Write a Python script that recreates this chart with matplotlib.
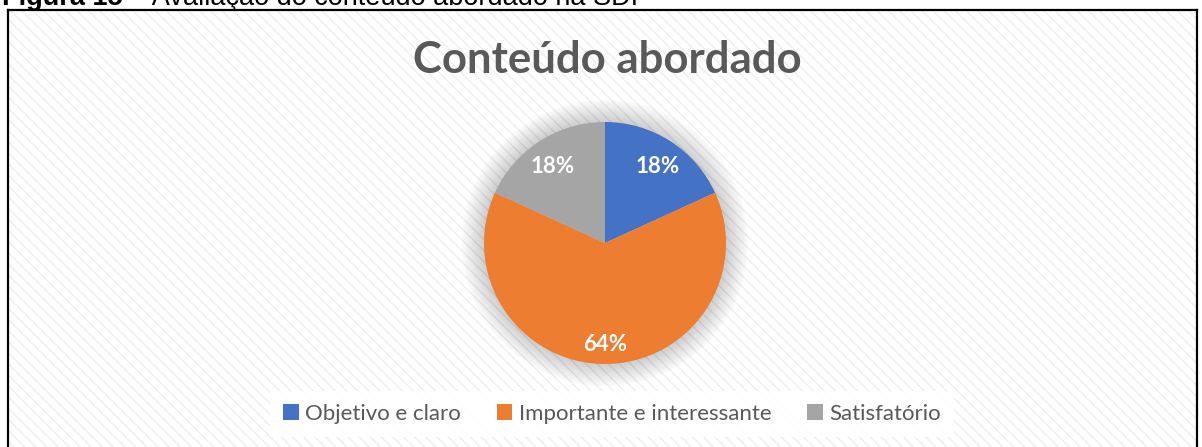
import matplotlib.pyplot as plt
from matplotlib.patches import Rectangle, Circle
from matplotlib.lines import Line2D

# Données du graphique
categories = ['Objetivo e claro', 'Importante e interessante', 'Satisfatório']
respostas = [2, 7, 2]
couleurs = ['#4472C4', '#ED7D31', '#A5A5A5']
titre = 'Conteúdo abordado'
legende_num = 'Figura 15'
legende_texte = ' – Avaliação do conteúdo abordado na SDI'

plt.rcParams['font.family'] = ['Lato', 'DejaVu Sans']
plt.rcParams['hatch.linewidth'] = 1.0

fig = plt.figure(figsize=(12.02, 4.47), dpi=100)
W, H = 1202, 447

# Fond hachuré de la zone du graphique
fond = Rectangle((8 / W, 0), (1197 - 8) / W, (H - 10) / H, transform=fig.transFigure,
                 facecolor='white', edgecolor='#eeeeee', hatch='\\\\\\', linewidth=0, zorder=-5)
fig.patches.append(fond)
# Cadre noir
for xs, ys in [([8, 8], [0, H - 10]), ([8, 1197], [H - 10, H - 10]), ([1197, 1197], [0, H - 10])]:
    fig.add_artist(Line2D([x / W for x in xs], [y / H for y in ys], color='black', lw=1.6, zorder=5))

# Légende de la figure (coupée en haut, comme dans l'original)
t1 = fig.text(2 / W, (H - 5) / H, legende_num, fontsize=19.5, family='Liberation Sans',
              fontweight='bold', ha='left', va='baseline')
renderer = fig.canvas.get_renderer()
bb = t1.get_window_extent(renderer)
fig.text(bb.x1 / W, (H - 5) / H, legende_texte, fontsize=19.5, family='Liberation Sans',
         ha='left', va='baseline')

# Titre
fig.text(607 / W, (H - 60) / H, titre, fontsize=31.5, fontweight='bold', color='#595959',
         ha='center', va='center')

# Camembert
r = 121
ax = fig.add_axes([(605 - r) / W, (H - 243 - r) / H, 2 * r / W, 2 * r / H], zorder=2)
ax.patch.set_visible(False)
ax.axis('off')

# Ombre douce autour du camembert
for i in range(16):
    ax.add_patch(Circle((0, 0), 1.0 + 0.012 * i, color='black', alpha=0.01,
                        zorder=0, clip_on=False))

wedges, texts, autotexts = ax.pie(respostas, colors=couleurs, startangle=90, counterclock=False,
                                  autopct='%1.0f%%', pctdistance=0.8, radius=1,
                                  wedgeprops=dict(linewidth=0),
                                  textprops=dict(color='white', fontsize=16, fontweight='bold'))
# petit décalage vertical des étiquettes (placement "ajustement optimal" d'Excel)
for t in autotexts:
    t.set_y(t.get_position()[1] - 0.04)
ax.set_xlim(-1, 1)
ax.set_ylim(-1, 1)
ax.set_aspect('equal')

# Légende
leg = fig.legend(wedges, categories, loc='center', bbox_to_anchor=(612 / W, (H - 414) / H),
                 ncol=3, frameon=True, fontsize=16, handlelength=0.7, handleheight=0.7,
                 handletextpad=0.3, columnspacing=1.6, labelcolor='#595959',
                 borderpad=0.6)
leg.set_zorder(3)
leg.get_frame().set_facecolor('white')
leg.get_frame().set_edgecolor('none')
leg.get_frame().set_alpha(0.9)
leg.get_frame().set_boxstyle('square', pad=0.0)

fig.savefig('out.png', dpi=100)
